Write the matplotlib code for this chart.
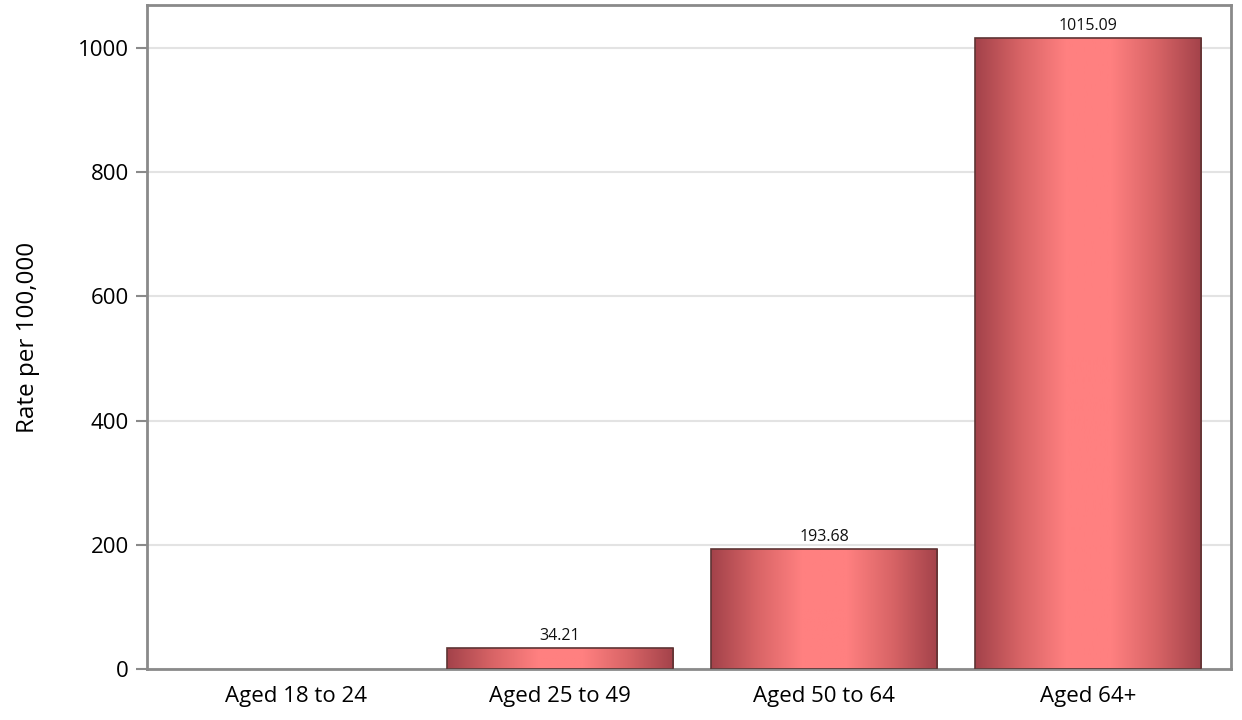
import matplotlib.pyplot as plt
import numpy as np
from matplotlib.colors import LinearSegmentedColormap
from matplotlib.patches import Rectangle

plt.rcParams['font.family'] = ['Open Sans', 'DejaVu Sans']

categories = ["Aged 18 to 24", "Aged 25 to 49", "Aged 50 to 64", "Aged 64+"]
rates = [np.nan, 34.21, 193.68, 1015.09]
value_labels = ["", "34.21", "193.68", "1015.09"]

cmap = LinearSegmentedColormap.from_list(
    "shade", ["#a3424a", "#d86466", "#ff8080", "#ff8080", "#d86466", "#a3424a"])
grad = np.linspace(0, 1, 256).reshape(1, -1)


def main():
    fig = plt.figure(figsize=(12.42, 7.2), dpi=100)
    ax = fig.add_axes([147 / 1242, 1 - 669 / 720, (1231 - 147) / 1242, (669 - 5) / 720])

    x = np.arange(len(categories))
    width = 0.856
    for xi, v, lab in zip(x, rates, value_labels):
        if np.isnan(v):
            continue
        b = ax.bar(xi, v, width=width, color="none", edgecolor="#5e3434",
                   linewidth=1.2, zorder=3)[0]
        x0, y0 = b.get_x(), b.get_y()
        w, h = b.get_width(), b.get_height()
        im = ax.imshow(grad, cmap=cmap, aspect="auto", extent=(x0, x0 + w, y0, y0 + h),
                       zorder=2, interpolation="bilinear")
        im.set_clip_path(Rectangle((x0, y0), w, h, transform=ax.transData))
        ax.annotate(lab, (xi, v), xytext=(0, 3), textcoords="offset points",
                    ha="center", va="bottom", fontsize=11.5, color="#111111")

    ax.set_xlim(-0.564, 3.54)
    ax.set_ylim(0, 1069)
    ax.set_xticks(x)
    ax.set_xticklabels(categories, fontsize=16)
    ax.set_yticks([0, 200, 400, 600, 800, 1000])
    ax.tick_params(axis="y", labelsize=16, length=8, width=1.5, color="#8a8a8a", pad=5)
    ax.tick_params(axis="x", length=0, pad=12)
    ax.set_ylabel("Rate per 100,000", fontsize=17.5, labelpad=27)
    ax.yaxis.grid(True, color="#e3e3e3", linewidth=1.5, zorder=0)
    ax.set_axisbelow(True)
    for s in ax.spines.values():
        s.set_color("#8a8a8a")
        s.set_linewidth(2)

    fig.savefig("out.png", dpi=100)


if __name__ == "__main__":
    main()
